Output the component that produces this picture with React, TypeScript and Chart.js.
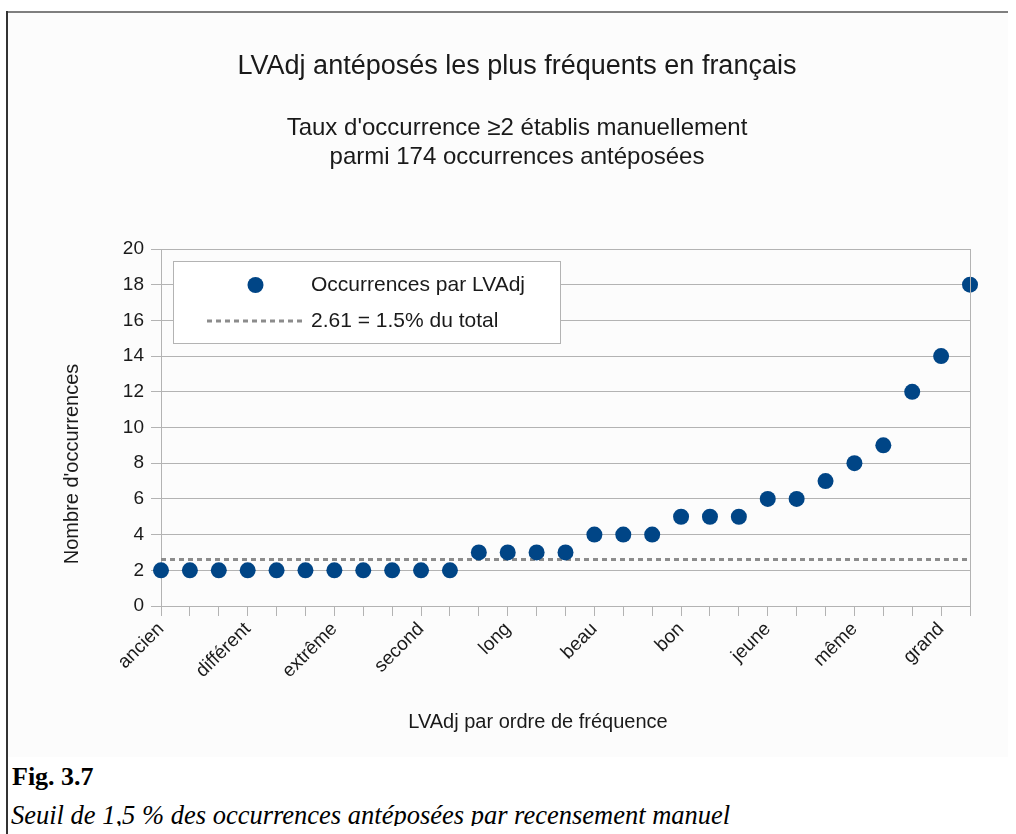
import React, { useEffect, useRef } from 'react';
import { Chart, registerables } from 'chart.js';

Chart.register(...registerables);

// ---------- Data ----------
const CATEGORIES: string[] = [
  'ancien', '', '', 'différent', '', '', 'extrême', '', '', 'second', '', '',
  'long', '', '', 'beau', '', '', 'bon', '', '', 'jeune', '', '', 'même', '', '',
  'grand', '',
];
const OCCURRENCES: number[] = [
  2, 2, 2, 2, 2, 2, 2, 2, 2, 2, 2,
  3, 3, 3, 3,
  4, 4, 4,
  5, 5, 5,
  6, 6,
  7, 8, 9, 12, 14, 18,
];
const THRESHOLD = 2.61;
const Y_MIN = 0;
const Y_MAX = 20;
const Y_STEP = 2;

const TITLE = 'LVAdj antéposés les plus fréquents en français';
const SUBTITLE_LINES = ["Taux d'occurrence ≥2 établis manuellement", 'parmi 174 occurrences antéposées'];
const SERIES_LABEL = 'Occurrences par LVAdj';
const THRESHOLD_LABEL = '2.61 = 1.5% du total';
const X_TITLE = 'LVAdj par ordre de fréquence';
const Y_TITLE = "Nombre d'occurrences";
const FIG_NUMBER = 'Fig. 3.7';
const FIG_CAPTION = 'Seuil de 1,5 % des occurrences antéposées par recensement manuel';

// ---------- Styles ----------
const SANS = '"Liberation Sans", Arial, sans-serif';
const POINT_COLOR = '#004586';
const LINE_COLOR = '#8c8c8c';
const GRID_COLOR = '#b3b3b3';
const TEXT_COLOR = '#1a1a1a';

const decorPlugin = {
  id: 'decor',
  afterDraw(chart: any) {
    const { ctx, chartArea } = chart;
    ctx.save();
    // right border of plot
    ctx.strokeStyle = GRID_COLOR;
    ctx.lineWidth = 1;
    ctx.beginPath();
    ctx.moveTo(Math.round(chartArea.right) + 0.5, chartArea.top);
    ctx.lineTo(Math.round(chartArea.right) + 0.5, chartArea.bottom);
    ctx.stroke();

    ctx.fillStyle = TEXT_COLOR;
    ctx.textAlign = 'center';
    ctx.textBaseline = 'middle';
    ctx.font = `27px ${SANS}`;
    ctx.fillText(TITLE, 509, 54);
    ctx.font = `24px ${SANS}`;
    ctx.fillText(SUBTITLE_LINES[0], 509, 115);
    ctx.fillText(SUBTITLE_LINES[1], 509, 144);

    ctx.font = `20px ${SANS}`;
    ctx.fillText(X_TITLE, 530, 709);
    ctx.save();
    ctx.translate(64, 451);
    ctx.rotate(-Math.PI / 2);
    ctx.fillText(Y_TITLE, 0, 0);
    ctx.restore();

    // legend box
    const bx = 165.5, by = 248.5, bw = 387, bh = 82;
    ctx.fillStyle = '#ffffff';
    ctx.fillRect(bx, by, bw, bh);
    ctx.strokeStyle = GRID_COLOR;
    ctx.lineWidth = 1;
    ctx.strokeRect(bx, by, bw, bh);

    ctx.fillStyle = POINT_COLOR;
    ctx.beginPath();
    ctx.arc(247.5, 272, 8, 0, Math.PI * 2);
    ctx.fill();

    ctx.strokeStyle = LINE_COLOR;
    ctx.lineWidth = 3;
    ctx.setLineDash([5, 4]);
    ctx.beginPath();
    ctx.moveTo(199, 308);
    ctx.lineTo(297, 308);
    ctx.stroke();
    ctx.setLineDash([]);

    ctx.fillStyle = TEXT_COLOR;
    ctx.textAlign = 'left';
    ctx.font = `21px ${SANS}`;
    ctx.fillText(SERIES_LABEL, 303, 272);
    ctx.fillText(THRESHOLD_LABEL, 303, 308);
    ctx.restore();
  },
};

function ChartCanvas() {
  const ref = useRef<HTMLCanvasElement | null>(null);
  useEffect(() => {
    if (!ref.current) return;
    const chart = new Chart(ref.current, {
      type: 'line',
      data: {
        labels: CATEGORIES,
        datasets: [
          {
            label: THRESHOLD_LABEL,
            data: CATEGORIES.map(() => THRESHOLD),
            borderColor: LINE_COLOR,
            borderWidth: 3,
            borderDash: [5, 4],
            pointRadius: 0,
            fill: false,
            order: 2,
          },
          {
            label: SERIES_LABEL,
            data: OCCURRENCES,
            showLine: false,
            pointRadius: 8,
            pointHoverRadius: 8,
            pointBackgroundColor: POINT_COLOR,
            pointBorderWidth: 0,
            borderColor: POINT_COLOR,
            order: 1,
          },
        ],
      },
      options: {
        responsive: false,
        animation: false,
        events: [],
        layout: { padding: { left: 0, right: 38, top: 236, bottom: 0 } },
        plugins: {
          legend: { display: false },
          title: { display: false },
          tooltip: { enabled: false },
        },
        scales: {
          x: {
            type: 'category',
            offset: false,
            afterFit: (scale: any) => { scale.height = 151; },
            grid: {
              drawOnChartArea: false,
              drawTicks: true,
              tickLength: 10,
              color: GRID_COLOR,
            },
            border: { display: true, color: GRID_COLOR },
            ticks: {
              autoSkip: false,
              minRotation: 45,
              maxRotation: 45,
              padding: 2,
              color: TEXT_COLOR,
              font: { family: SANS, size: 19 },
              callback: (_v: any, i: number) => CATEGORIES[i],
            },
          },
          y: {
            min: Y_MIN,
            max: Y_MAX,
            afterFit: (scale: any) => { scale.width = 153; },
            grid: { color: GRID_COLOR, tickLength: 10, drawTicks: true },
            border: { display: true, color: GRID_COLOR },
            ticks: {
              stepSize: Y_STEP,
              padding: 7,
              color: TEXT_COLOR,
              font: { family: SANS, size: 19 },
            },
          },
        },
      },
      plugins: [decorPlugin],
    } as any);
    return () => chart.destroy();
  }, []);
  return <canvas ref={ref} width={1000} height={744} style={{ display: 'block', width: 1000, height: 744 }} />;
}

export default function App() {
  return (
    <div style={{ position: 'relative', width: 1000, height: 818 }}>
      <div style={{ position: 'absolute', left: -1, top: 3, width: 1009, height: 2, background: '#7f7f7f' }} />
      <div style={{ position: 'fixed', left: 6, top: 11, width: 2, bottom: 0, background: '#333' }} />
      <div style={{ position: 'absolute', left: 0, top: 5, width: 1000, height: 744, background: '#fcfcfc' }}>
        <ChartCanvas />
      </div>
      <div style={{ position: 'absolute', left: 4, top: 756, fontFamily: '"Liberation Serif", serif', fontWeight: 'bold', fontSize: 26, lineHeight: '26px', whiteSpace: 'nowrap', color: '#000' }}>
        {FIG_NUMBER}
      </div>
      <div style={{ position: 'absolute', left: 3, top: 794, fontFamily: '"Liberation Serif", serif', fontStyle: 'italic', fontSize: 26.5, lineHeight: '27px', whiteSpace: 'nowrap', color: '#000' }}>
        {FIG_CAPTION}
      </div>
    </div>
  );
}
